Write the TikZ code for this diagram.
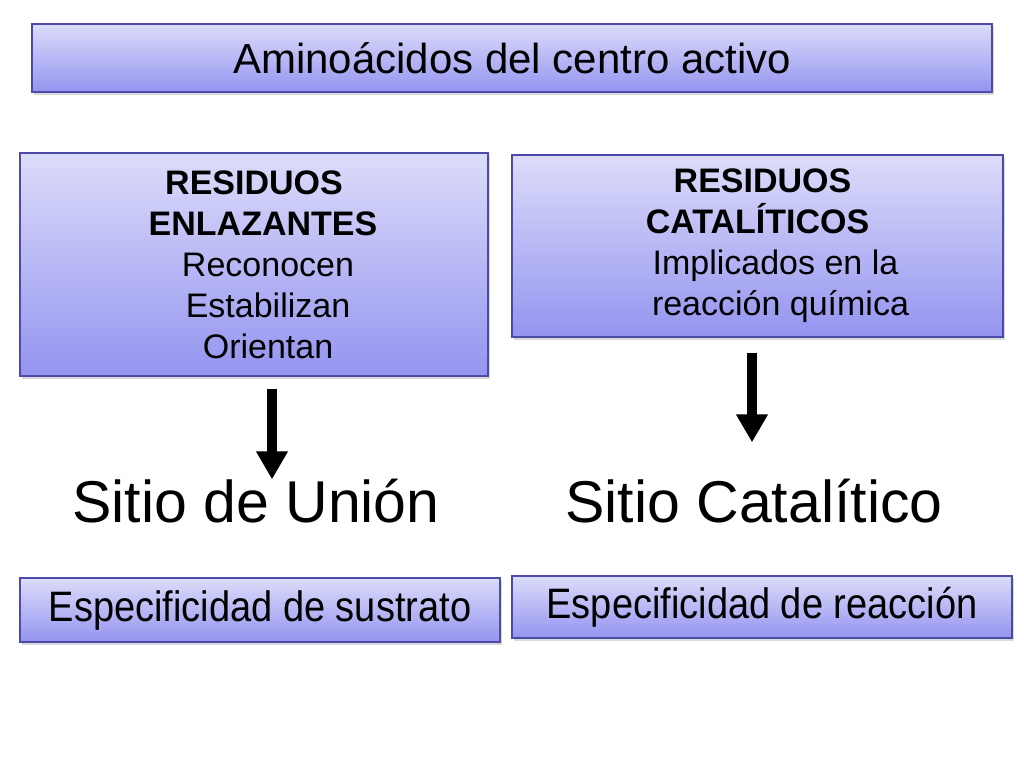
\documentclass[tikz,border=0pt]{standalone}
\usepackage{fontspec}
\usepackage{graphicx}
\setmainfont{Liberation Sans}
\usetikzlibrary{arrows.meta, positioning, shadows}
\definecolor{boxtop}{HTML}{DCDCFA}
\definecolor{boxbot}{HTML}{9494F0}
\definecolor{boxline}{HTML}{4C4CA8}
\tikzstyle{block}=[draw=boxline,line width=1.2pt,rectangle,top color=boxtop,bottom color=boxbot,drop shadow={shadow xshift=1.5pt,shadow yshift=-2.5pt,opacity=0.3},inner sep=0pt,align=center]
\tikzstyle{site}=[inner sep=0pt,anchor=base,font=\fontsize{59}{66}\selectfont]
\tikzstyle{bigarrow}=[line width=10pt,-{Triangle[width=30pt,length=28pt]}]
\newcommand{\res}[1]{\textbf{#1}}
\newcommand{\tall}[1]{\scalebox{1}[1.12]{#1}}

\begin{document}
\begin{tikzpicture}[x=1pt,y=-1pt]
  \useasboundingbox (0,0) rectangle (1024,768);
  \node[block, minimum width=960pt, minimum height=68pt, font=\fontsize{42}{50}\selectfont] (title) at (512,58) {Aminoácidos del centro activo};
  \node[block, minimum width=468pt, minimum height=223pt, font=\fontsize{34}{41}\selectfont] (enlaz) at (254,264.5) {\res{RESIDUOS}\\ \hspace*{18pt}\res{ENLAZANTES}\\ \hspace*{28pt}Reconocen\\ \hspace*{28pt}Estabilizan\\ \hspace*{28pt}Orientan};
  \node[block, minimum width=491pt, minimum height=182pt, font=\fontsize{34}{41}\selectfont] (catal) at (757.5,246) {\hspace*{10pt}\res{RESIDUOS}\\ \res{CATALÍTICOS}\\ \hspace*{36pt}Implicados en la\\ \hspace*{46pt}reacción química};
  \node[site] (union) at (256,522) {Sitio de Unión};
  \node[site] (catsite) at (754,522) {Sitio Catalítico};
  \node[block, minimum width=480pt, minimum height=64pt, font=\fontsize{38}{44}\selectfont] (sustr) at (260,610) {\tall{Especificidad de sustrato}};
  \node[block, minimum width=500pt, minimum height=62pt, font=\fontsize{38}{44}\selectfont] (reacc) at (762,607) {\tall{Especificidad de reacción}};
  \draw[bigarrow] ([xshift=18pt,yshift=-12pt]enlaz.south) -- ([xshift=16pt,yshift=-1pt]union.north);
  \draw[bigarrow] ([xshift=-5.5pt,yshift=-15pt]catal.south) -- ([xshift=-2pt,yshift=36pt]catsite.north);
\end{tikzpicture}
\end{document}
